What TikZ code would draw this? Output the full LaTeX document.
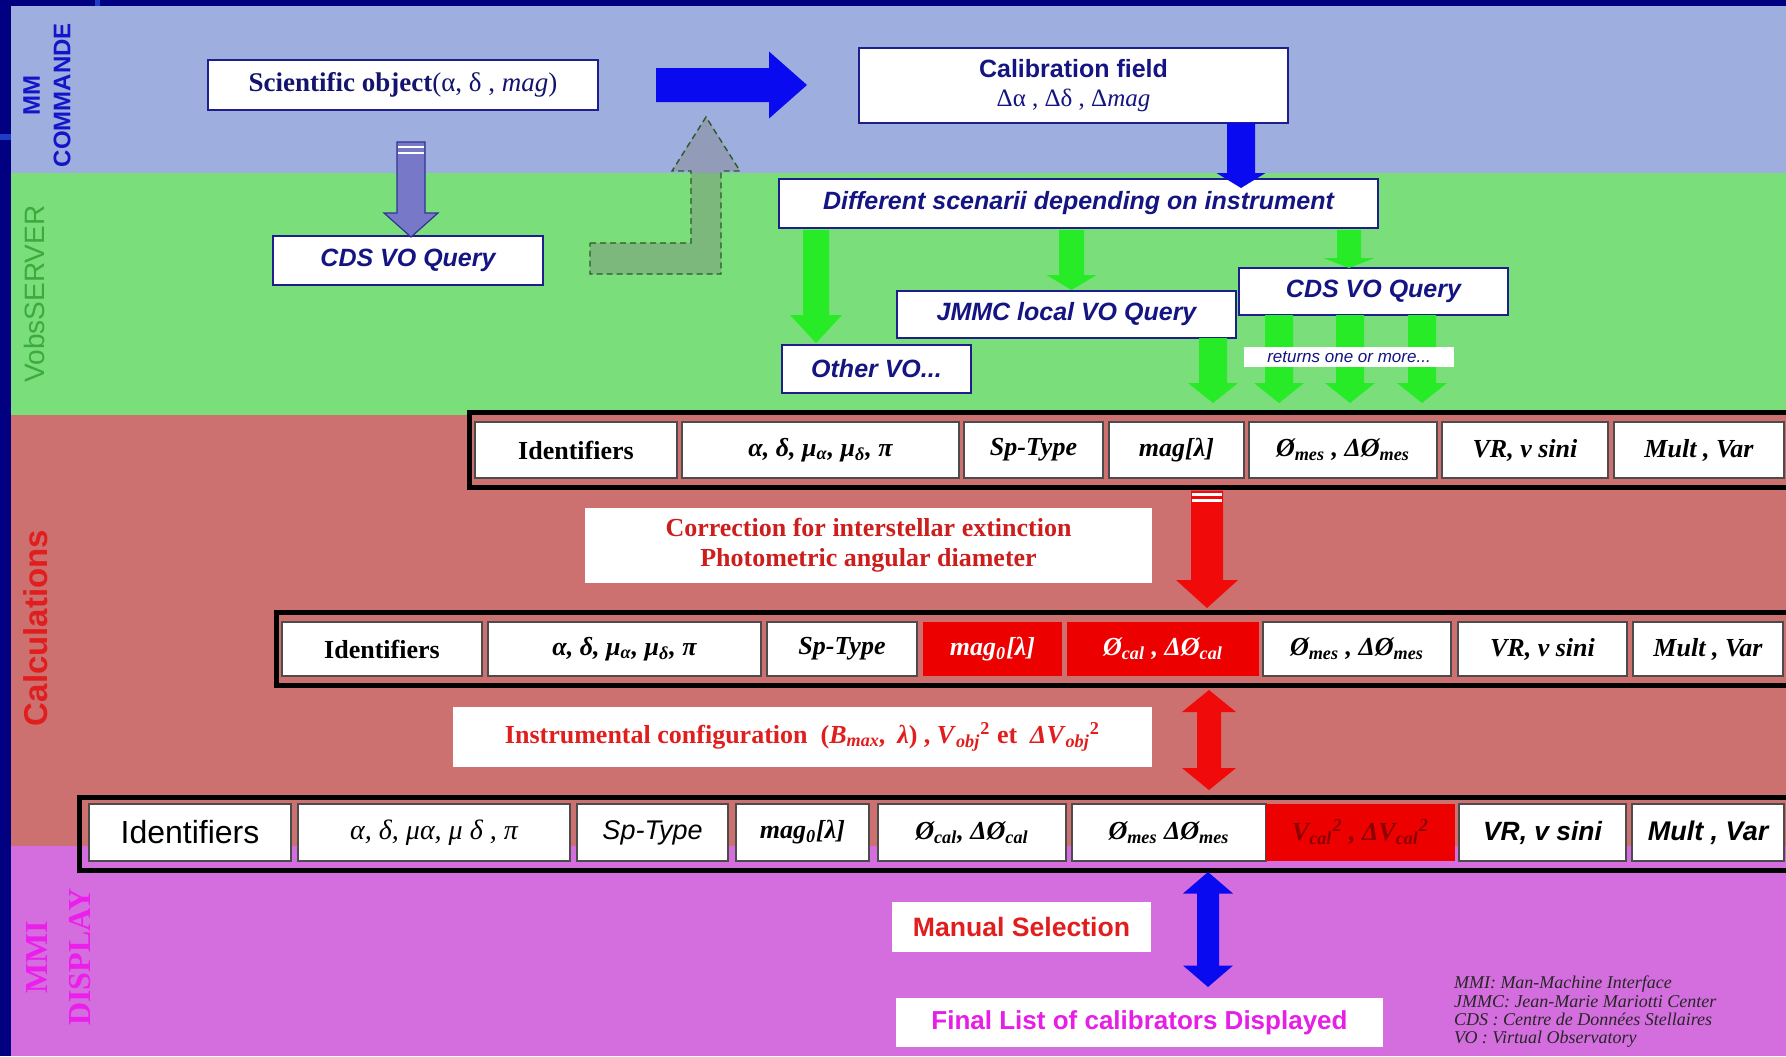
\documentclass[tikz,border=0pt]{standalone}
\usepackage{fontspec}
\setmainfont{Liberation Serif}
\setsansfont{Liberation Sans}
\usetikzlibrary{calc}

\definecolor{slidenavy}{RGB}{0,0,128}
\definecolor{trimblue}{RGB}{30,60,200}
\definecolor{cmdband}{RGB}{158,174,222}
\definecolor{srvband}{RGB}{122,222,122}
\definecolor{calcband}{RGB}{204,112,112}
\definecolor{dispband}{RGB}{212,110,222}
\definecolor{boxline}{RGB}{30,30,140}
\definecolor{boxtext}{RGB}{20,20,130}
\definecolor{scitext}{RGB}{20,20,110}
\definecolor{arrowblue}{RGB}{10,10,240}
\definecolor{arrowgreen}{RGB}{40,235,40}
\definecolor{arrowred}{RGB}{240,10,10}
\definecolor{cellred}{RGB}{236,0,0}
\definecolor{darkred}{RGB}{140,0,0}
\definecolor{corrtext}{RGB}{205,30,30}
\definecolor{labelblue}{RGB}{20,20,200}
\definecolor{labelgreen}{RGB}{60,170,60}
\definecolor{labelred}{RGB}{225,30,30}
\definecolor{labelmag}{RGB}{235,30,235}
\definecolor{listmag}{RGB}{230,30,230}
\definecolor{slate}{RGB}{120,120,200}
\definecolor{slateline}{RGB}{50,50,150}
\definecolor{bentline}{RGB}{40,90,40}

% block arrows: style, tail point, tip point, half shaft, half head, head length
\newcommand\blkdown[6]{\path[#1] let \p1=(#2), \p2=(#3) in
  (\x2-#4,\y1) -- (\x2+#4,\y1) -- (\x2+#4,\y2+#6) -- (\x2+#5,\y2+#6) -- (\x2,\y2)
  -- (\x2-#5,\y2+#6) -- (\x2-#4,\y2+#6) -- cycle;}
\newcommand\blkright[6]{\path[#1] let \p1=(#2), \p2=(#3) in
  (\x1,\y1+#4) -- (\x2-#6,\y1+#4) -- (\x2-#6,\y1+#5) -- (\x2,\y1)
  -- (\x2-#6,\y1-#5) -- (\x2-#6,\y1-#4) -- (\x1,\y1-#4) -- cycle;}
% double-headed vertical arrow: style, upper tip, lower tip, half shaft, half head, head length
\newcommand\blkdouble[6]{\path[#1] let \p1=(#2), \p2=(#3) in
  (\x1,\y1) -- (\x1+#5,\y1-#6) -- (\x1+#4,\y1-#6) -- (\x1+#4,\y2+#6) -- (\x1+#5,\y2+#6)
  -- (\x1,\y2) -- (\x1-#5,\y2+#6) -- (\x1-#4,\y2+#6) -- (\x1-#4,\y1-#6) -- (\x1-#5,\y1-#6) -- cycle;}

\begin{document}
\begin{tikzpicture}[x=0.5pt, y=-0.5pt,
  every node/.style={inner sep=0pt, outer sep=0pt},
  topbox/.style={draw=boxline, line width=0.8pt, fill=white, text=boxtext, align=center,
    font=\sffamily\bfseries\itshape\fontsize{12.5}{15}\selectfont},
  whitebox/.style={fill=white, align=center},
  rowframe/.style={draw=black, line width=2.5pt},
  cell/.style={draw=black!70, line width=0.6pt, fill=white,
    font=\rmfamily\bfseries\itshape\fontsize{13}{15}\selectfont},
  hotcell/.style={fill=cellred, text=white,
    font=\rmfamily\bfseries\itshape\fontsize{13}{15}\selectfont},
  sidelabel/.style={rotate=90, align=center},
  bluearrow/.style={fill=arrowblue},
  greenarrow/.style={fill=arrowgreen},
  redarrow/.style={fill=arrowred},
  slatearrow/.style={fill=slate, draw=slateline, line width=0.6pt},
  bentarrow/.style={fill=gray, fill opacity=0.4, draw=bentline, line width=0.7pt,
    dash pattern=on 3pt off 2pt},
  stripe/.style={draw=white, line width=1.2pt}]

\useasboundingbox (0,0) rectangle (1786,1056);

% slide background and the four swim lanes
\fill[slidenavy] (0,0) rectangle (1786,1056);
\fill[trimblue] (0,134) rectangle (11,140);
\fill[trimblue] (95,0) rectangle (100,6);
\fill[cmdband] (11,6) rectangle (1786,173);
\fill[srvband] (11,173) rectangle (1786,415);
\fill[calcband] (11,415) rectangle (1786,846);
\fill[dispband] (11,846) rectangle (1786,1056);

% lane titles
\node[sidelabel, text=labelblue, font=\sffamily\bfseries\fontsize{12}{15.25}\selectfont] (lblcmd) at (47,95) {MM\\COMMANDE};
\node[sidelabel, text=labelgreen, font=\sffamily\fontsize{14}{16}\selectfont] (lblsrv) at (34,294) {VobsSERVER};
\node[sidelabel, text=labelred, font=\sffamily\bfseries\fontsize{16.5}{18}\selectfont] (lblcalc) at (35.5,628) {Calculations};
\node[sidelabel, text=labelmag, font=\rmfamily\bfseries\fontsize{16}{21.5}\selectfont] (lbldisp) at (58.5,957) {MMI\\DISPLAY};

% query boxes
\node[topbox, text=scitext, font=\rmfamily\fontsize{13.5}{16}\selectfont,
  minimum width=195pt, minimum height=25pt] (sci) at (403,85) {\textbf{Scientific object}(α, δ , \textit{mag})};
\node[topbox, font=\sffamily\bfseries\fontsize{12.5}{14.5}\selectfont,
  minimum width=214.5pt, minimum height=37.5pt] (cal) at (1073.5,85.5)
  {Calibration field\\{\rmfamily\mdseries Δα , Δδ , Δ\textit{mag}}};
\node[topbox, minimum width=135pt, minimum height=24.5pt] (cds1) at (408,260.5) {CDS VO Query};
\node[topbox, minimum width=299.5pt, minimum height=24.5pt] (scen) at (1078.5,203.5) {Different scenarii depending on instrument};
\node[topbox, minimum width=169.5pt, minimum height=23.5pt] (jmmc) at (1066.5,314.5) {JMMC local VO Query};
\node[topbox, minimum width=134.5pt, minimum height=23.5pt] (cds2) at (1373.5,291.5) {CDS VO Query};
\node[topbox, minimum width=94.5pt, minimum height=24pt] (other) at (876.5,369) {Other VO...};

% bent arrow from the first query back up to the main flow
\coordinate (uptip) at (706,117);
\path[bentarrow] let \p1=(cds1.east), \p2=(uptip) in
  (\x1+23.5pt,\y1+8.75pt) -- (\x2-7.5pt,\y1+8.75pt) -- (\x2-7.5pt,\y2-27pt) -- (\x2-17pt,\y2-27pt)
  -- (\x2,\y2) -- (\x2+17pt,\y2-27pt) -- (\x2+7.5pt,\y2-27pt) -- (\x2+7.5pt,\y1-6.75pt)
  -- (\x1+23.5pt,\y1-6.75pt) -- cycle;

% main flow arrows in the upper lanes
\blkright{bluearrow}{$(sci.east)+(58,0)$}{$(cal.west)+(-52,0)$}{8.5pt}{16.75pt}{19pt}
\blkdown{slatearrow}{$(sci.south)+(0,32)$}{$(cds1.north)+(3,1)$}{7pt}{13.5pt}{12pt}
\path[stripe] let \p1=($(sci.south)+(0,32)$), \p2=($(cds1.north)+(3,1)$) in
  (\x2-6.5pt,\y1-2.5pt) -- (\x2+6.5pt,\y1-2.5pt) (\x2-6.5pt,\y1-5.5pt) -- (\x2+6.5pt,\y1-5.5pt);
\blkdown{bluearrow}{cal.south}{$(scen.north)+(162.5,9)$}{7pt}{12.25pt}{7.5pt}

\blkdown{greenarrow}{$(scen.south)+(0,2)$}{$(other.north)+(-60.5,-2)$}{6.5pt}{13pt}{14pt}
\blkdown{greenarrow}{$(scen.south)+(0,2)$}{$(jmmc.north)+(5,-1)$}{6.25pt}{12.5pt}{7.5pt}
\blkdown{greenarrow}{$(scen.south)+(0,2)$}{$(cds2.north)+(-24.5,0)$}{6pt}{12.75pt}{5pt}

% first catalogue row
\node[rowframe, minimum width=665.25pt, minimum height=37.5pt] (r1frame) at (1134.75,450) {};
\node[cell, font=\rmfamily\bfseries\fontsize{13}{15}\selectfont, minimum width=101pt, minimum height=28pt] (r1id) at (576,450) {Identifiers};
\node[cell, minimum width=138.5pt, minimum height=28pt] (r1pos) at (820.5,450) {α, δ, μ\textsubscript{α}, μ\textsubscript{δ}, π};
\node[cell, minimum width=69.5pt, minimum height=28pt] (r1sp) at (1033.5,450) {Sp-Type};
\node[cell, minimum width=67.5pt, minimum height=28pt] (r1mag) at (1176.5,450) {mag[λ]};
\node[cell, minimum width=94pt, minimum height=28pt] (r1mes) at (1343,450) {Ø\textsubscript{mes} , ΔØ\textsubscript{mes}};
\node[cell, minimum width=83pt, minimum height=28pt] (r1vr) at (1525,450) {VR, v sini};
\node[cell, minimum width=85pt, minimum height=28pt] (r1mult) at (1699,450) {Mult , Var};

% query results feeding the first row
\blkdown{greenarrow}{jmmc.south}{$(r1mag.north)+(36.5,-19)$}{7pt}{12.5pt}{10pt}
\blkdown{greenarrow}{cds2.south}{$(r1mes.north)+(-64,-19)$}{7pt}{12.5pt}{10pt}
\blkdown{greenarrow}{cds2.south}{$(r1mes.north)+(7,-19)$}{7pt}{12.5pt}{10pt}
\blkdown{greenarrow}{cds2.south}{$(r1mes.north)+(79,-19)$}{7pt}{12.5pt}{10pt}
\node[whitebox, text=boxtext, font=\sffamily\itshape\fontsize{8.5}{10}\selectfont,
  minimum width=105pt, minimum height=10pt] (ret) at (1349,357) {returns one or more...};

% second catalogue row
\node[rowframe, minimum width=761.75pt, minimum height=36.25pt] (r2frame) at (1038.25,648.75) {};
\node[cell, font=\rmfamily\bfseries\fontsize{13}{15}\selectfont, minimum width=100pt, minimum height=27pt] (r2id) at (382,649) {Identifiers};
\node[cell, minimum width=136.5pt, minimum height=27pt] (r2pos) at (624.5,649) {α, δ, μ\textsubscript{α}, μ\textsubscript{δ}, π};
\node[cell, minimum width=75pt, minimum height=27pt] (r2sp) at (842,649) {Sp-Type};
\node[hotcell, minimum width=69.5pt, minimum height=27pt] (r2mag) at (992.5,649) {mag\textsubscript{0}[λ]};
\node[hotcell, minimum width=96pt, minimum height=27pt] (r2cal) at (1163,649) {Ø\textsubscript{cal} , ΔØ\textsubscript{cal}};
\node[cell, minimum width=94pt, minimum height=27pt] (r2mes) at (1357,649) {Ø\textsubscript{mes} , ΔØ\textsubscript{mes}};
\node[cell, minimum width=84.5pt, minimum height=27pt] (r2vr) at (1542.5,649) {VR, v sini};
\node[cell, minimum width=75pt, minimum height=27pt] (r2mult) at (1708,649) {Mult , Var};

% extinction correction step
\node[whitebox, text=corrtext, font=\rmfamily\bfseries\fontsize{13}{15}\selectfont,
  minimum width=283.5pt, minimum height=37.5pt] (corr) at (868.5,545.5)
  {Correction for interstellar extinction\\Photometric angular diameter};
\blkdown{redarrow}{$(r1frame.south)+(0,3)$}{$(r2cal.north)+(44,-14)$}{8pt}{15.5pt}{14pt}
\path[stripe] let \p1=($(r1frame.south)+(0,3)$), \p2=($(r2cal.north)+(44,-14)$) in
  (\x2-7.5pt,\y1-2pt) -- (\x2+7.5pt,\y1-2pt) (\x2-7.5pt,\y1-5pt) -- (\x2+7.5pt,\y1-5pt);

% third catalogue row
\node[rowframe, minimum width=860.25pt, minimum height=36.5pt] (r3frame) at (939.75,833.5) {};
\node[cell, font=\sffamily\fontsize{16}{18}\selectfont, minimum width=101pt, minimum height=28.5pt] (r3id) at (190,832.5) {Identifiers};
\node[cell, font=\rmfamily\itshape\fontsize{14}{16}\selectfont, minimum width=136pt, minimum height=28.5pt] (r3pos) at (434,832.5) {α, δ, μα, μ δ , π};
\node[cell, font=\sffamily\itshape\fontsize{13.5}{16}\selectfont, minimum width=75.5pt, minimum height=28.5pt] (r3sp) at (652.5,832.5) {Sp-Type};
\node[cell, minimum width=66.5pt, minimum height=28.5pt] (r3mag) at (802.5,832.5) {mag\textsubscript{0}[λ]};
\node[cell, minimum width=94pt, minimum height=28.5pt] (r3cal) at (972,832.5) {Ø\textsubscript{cal}, ΔØ\textsubscript{cal}};
\node[cell, minimum width=97pt, minimum height=28.5pt] (r3mes) at (1169,832.5) {Ø\textsubscript{mes} ΔØ\textsubscript{mes}};
\node[hotcell, text=darkred, minimum width=94.5pt, minimum height=28.5pt] (r3vis) at (1360.5,832.5) {V\textsubscript{cal}\textsuperscript{2} , ΔV\textsubscript{cal}\textsuperscript{2}};
\node[cell, font=\sffamily\bfseries\itshape\fontsize{13.2}{16}\selectfont, minimum width=83.5pt, minimum height=28.5pt] (r3vr) at (1542.5,832.5) {VR, v sini};
\node[cell, font=\sffamily\bfseries\itshape\fontsize{13.5}{16}\selectfont, minimum width=76pt, minimum height=28.5pt] (r3mult) at (1708,832.5) {Mult , Var};

% instrumental configuration step
\node[whitebox, text=labelred, font=\rmfamily\bfseries\fontsize{13}{15}\selectfont,
  minimum width=349.5pt, minimum height=30pt] (inst) at (802.5,737)
  {Instrumental configuration\enspace(\textit{B}\textsubscript{\textit{max}}\textit{,}\, \textit{λ}) , \textit{V}\textsubscript{\textit{obj}}\textsuperscript{2} et\enspace \textit{ΔV}\textsubscript{\textit{obj}}\textsuperscript{2}};
\blkdouble{redarrow}{$(r2cal.south)+(46,14)$}{$(r3mes.north)+(40,-14)$}{6pt}{13.5pt}{11pt}

% display stage
\node[whitebox, text=labelred, font=\sffamily\bfseries\fontsize{13.3}{15}\selectfont,
  minimum width=129.5pt, minimum height=25pt] (manual) at (1021.5,927) {Manual Selection};
\node[whitebox, text=listmag, font=\sffamily\bfseries\fontsize{13}{15}\selectfont,
  minimum width=243.5pt, minimum height=24.5pt] (final) at (1139.5,1022.5) {Final List of calibrators Displayed};
\blkdouble{bluearrow}{$(r3mes.south)+(39,11)$}{$(final.north)+(68.5,-11)$}{5.5pt}{12.5pt}{10.75pt}

% abbreviations
\node[anchor=north west, align=left, text=black!85, font=\rmfamily\itshape\fontsize{9}{9.2}\selectfont] (legend) at (1454,976)
  {MMI: Man-Machine Interface\\JMMC: Jean-Marie Mariotti Center\\CDS : Centre de Données Stellaires\\VO : Virtual Observatory};

\end{tikzpicture}
\end{document}
